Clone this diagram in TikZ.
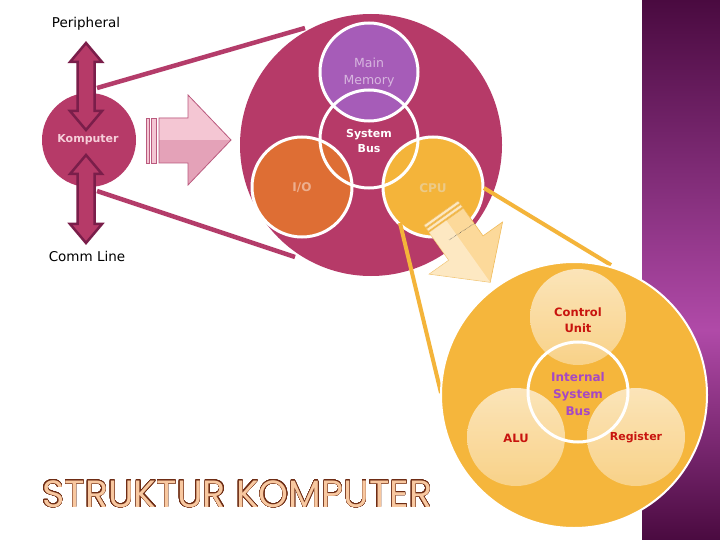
\documentclass[tikz,border=0pt]{standalone}
\usepackage{fontspec}
\setmainfont{DejaVu Sans}
\newfontfamily\titlefont{Poppins}
\usepackage{contour}
\contourlength{0.35pt}
\contournumber{32}
\definecolor{magbig}{HTML}{B63A68}
\definecolor{magline}{HTML}{B43C6A}
\definecolor{magdark}{HTML}{7A1E4A}
\definecolor{mmpurple}{HTML}{A65CB8}
\definecolor{ioorange}{HTML}{DE6E34}
\definecolor{cpuyellow}{HTML}{F4B43A}
\definecolor{bigyellow}{HTML}{F5B63C}
\definecolor{pinklight}{HTML}{F4C6D3}
\definecolor{pinkdark}{HTML}{E4A2B8}
\definecolor{pinkedge}{HTML}{BA5A7E}
\definecolor{palefill}{HTML}{FCD99A}
\definecolor{paleedge}{HTML}{F0BC5C}
\definecolor{subtop}{HTML}{FDEDCF}
\definecolor{subbot}{HTML}{F9D796}
\definecolor{redtext}{HTML}{C8140E}
\definecolor{purpletext}{HTML}{A648C4}
\definecolor{paneltop}{HTML}{4A0A40}
\definecolor{panelmid}{HTML}{B04AA8}
\definecolor{titlefill}{HTML}{F8C8A0}
\definecolor{titleedge}{HTML}{6E2C14}
\tikzset{
  bigdisk/.style={circle, inner sep=0pt, minimum size=#1},
  whiteline/.style={draw=white, line width=3pt},
  dblarrow/.style={fill=magbig, draw=magdark, line width=2.5pt, line join=miter},
  lbl/.style={align=center, inner sep=0pt},
}
\newcommand\vdarrow[3]{% cx, ytop, ybot
  \draw[dblarrow] (#1,#2) -- ++(16,19) -- ++(-7.5,0) -- (#1+8.5,#3-19) -- ++(7.5,0)
     -- (#1,#3) -- ++(-16,-19) -- ++(7.5,0) -- (#1-8.5,#2+19) -- ++(-7.5,0) -- cycle;}
\begin{document}
\begin{tikzpicture}[x=1pt,y=-1pt]
\useasboundingbox (0,0) rectangle (720,540);
\fill[white] (0,0) rectangle (720,540);

% right panel
\shade[top color=paneltop, bottom color=panelmid] (642,0) rectangle (720,330);
\shade[top color=panelmid, bottom color=paneltop] (642,330) rectangle (720,540);

% lines from Komputer to big circle
\coordinate (l1a) at (97,88);
\coordinate (l1b) at (305,28);
\coordinate (l2a) at (97,191);
\coordinate (l2b) at (295,257);
\draw[magline, line width=4.5pt] (l1a) -- (l1b);
\draw[magline, line width=4.5pt] (l2a) -- (l2b);

% Komputer
\node[bigdisk=94pt, fill=magbig] (komp) at (89,140) {};
\vdarrow{86}{43}{130}
\vdarrow{86}{155}{243}
\node[lbl, font=\bfseries\fontsize{11}{13}\selectfont, text=pinklight!85!white] (kompt) at (88,140) {Komputer};
\node[lbl, font=\fontsize{13.5}{16}\selectfont] (peri) at (86,24) {Peripheral};
\node[lbl, font=\fontsize{13.5}{16}\selectfont] (comm) at (87,256) {Comm Line};

% pink block arrow
\begin{scope}
  \path[fill=pinkdark] (159,118) -- (188,118) -- (188,95) -- (231,140) -- (188,185) -- (188,163) -- (159,163) -- cycle;
  \clip (140,90) rectangle (240,140);
  \path[fill=pinklight] (159,118) -- (188,118) -- (188,95) -- (231,140) -- (188,185) -- (188,163) -- (159,163) -- cycle;
\end{scope}
\draw[pinkedge, line width=0.8pt] (159,118) -- (188,118) -- (188,95) -- (231,140) -- (188,185) -- (188,163) -- (159,163) -- cycle;
\draw[pinkedge, fill=pinklight, line width=0.8pt] (146,118) rectangle (149,163);
\draw[pinkedge, fill=pinklight, line width=0.8pt] (151,118) rectangle (156,163);

% big magenta circle
\node[bigdisk=262pt, fill=magbig] (sys) at (371,145) {};
\node[bigdisk=98pt, fill=mmpurple] (mm) at (369,72) {};
\node[bigdisk=100pt, fill=ioorange] (io) at (302,187) {};
\node[bigdisk=100pt, fill=cpuyellow] (cpu) at (433,187) {};
\node[bigdisk=98pt] (bus) at (369,139) {};
\draw[whiteline] (mm) circle (49pt);
\draw[whiteline] (bus) circle (49pt);
\draw[whiteline] (io) circle (50pt);
\draw[whiteline] (cpu) circle (50pt);
\node[lbl, font=\fontsize{12.5}{17}\selectfont, text=mmpurple!45!white] at (369,73) {Main\\Memory};
\node[lbl, font=\bfseries\fontsize{11}{14.5}\selectfont, text=white] at (369,141) {System\\Bus};
\node[lbl, font=\bfseries\fontsize{12}{14}\selectfont, text=ioorange!55!white] at (302,188) {I/O};
\node[lbl, font=\bfseries\fontsize{12}{14}\selectfont, text=cpuyellow!60!white!90!gray] at (433,188) {CPU};

% yellow connectors from CPU
\coordinate (c1a) at (484,188);
\coordinate (c1b) at (611,265);
\coordinate (c2a) at (400,223);
\coordinate (c2b) at (441,393);
\draw[cpuyellow, line width=4pt] (c1a) -- (c1b);
\draw[cpuyellow, line width=4pt] (c2a) -- (c2b);

% pale block arrow
\begin{scope}[shift={(441,213)}, rotate=-54.6]
  \draw[paleedge, fill=palefill, line width=0.6pt] (9,-21) -- (43,-21) -- (43,-45) -- (85,0) -- (43,45) -- (43,21) -- (9,21) -- cycle;
  \draw[paleedge, fill=palefill!60!white, line width=0.6pt] (0,-21) rectangle (3,21);
  \draw[paleedge, fill=palefill!60!white, line width=0.6pt] (4.5,-21) rectangle (7.5,21);
  \fill[white, opacity=0.4] (9,21) -- (43,21) -- (43,45) -- (85,0) -- (9,0) -- cycle;
\end{scope}
\draw[black!70, densely dotted, line width=0.5pt] (449,240) -- (475,223);

% big yellow circle
\node[bigdisk=266pt, fill=bigyellow, draw=white, line width=2pt] (cpuin) at (574,395) {};
\node[bigdisk=96pt, top color=subtop, bottom color=subbot, opacity=0.85] (cu) at (578,317) {};
\node[bigdisk=98pt, top color=subtop, bottom color=subbot, opacity=0.85] (alu) at (516,437) {};
\node[bigdisk=98pt, top color=subtop, bottom color=subbot, opacity=0.85] (reg) at (636,437) {};
\node[bigdisk=100pt] (isb) at (578,392) {};
\draw[whiteline] (isb) circle (50pt);
\node[lbl, font=\bfseries\fontsize{11.5}{16}\selectfont, text=redtext] at (578,320) {Control\\Unit};
\node[lbl, font=\bfseries\fontsize{12}{17}\selectfont, text=purpletext] at (578,394) {Internal\\System\\Bus};
\node[lbl, font=\bfseries\fontsize{11.5}{13}\selectfont, text=redtext] at (516,438) {ALU};
\node[lbl, font=\bfseries\fontsize{11}{13}\selectfont, text=redtext] at (636,438) {Register};

% title
\node[anchor=west, inner sep=0pt, text=titlefill, font=\titlefont\fontsize{38}{38}\selectfont] (title) at (42,494) {\contour{titleedge}{STRUKTUR KOMPUTER}};
\end{tikzpicture}
\end{document}
